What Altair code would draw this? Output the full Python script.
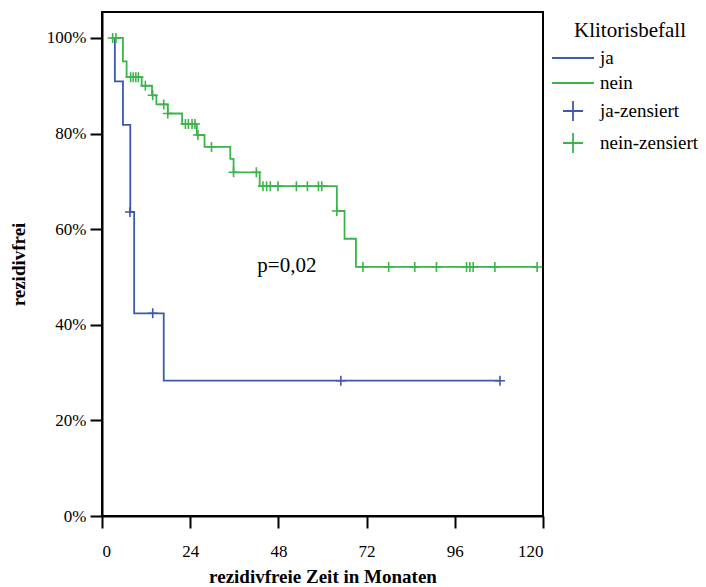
import altair as alt
import pandas as pd

BLUE = "#3d58ad"
GREEN = "#3bb54a"
FONT = "Liberation Serif"

# Kaplan-Meier step points (time in months, survival proportion)
ja_t = [2.9, 3.5, 5.7, 7.7, 8.75, 16.8, 108.3]
ja_s = [1.0, 0.909, 0.818, 0.636, 0.424, 0.283, 0.283]
ja_cens_t = [7.6, 13.8, 65.0, 108.3]
ja_cens_s = [0.636, 0.424, 0.283, 0.283]

nein_t = [2.9, 5.7, 6.7, 10.8, 13.6, 14.8, 17.9, 21.8, 25.8, 27.9, 34.9, 35.8,
          42.9, 63.9, 66.0, 69.1, 118.4]
nein_s = [1.0, 0.951, 0.918, 0.900, 0.880, 0.861, 0.842, 0.820, 0.797, 0.772,
          0.747, 0.719, 0.690, 0.638, 0.580, 0.521, 0.521]
nein_cens_t = [2.9, 3.8, 7.8, 8.5, 9.2, 9.9, 11.8, 13.8, 16.8, 17.9, 22.7, 23.5,
               24.5, 25.3, 26.1, 29.8, 35.8, 42.0, 43.8, 44.8, 45.8, 47.9, 52.9,
               55.9, 58.9, 59.8, 63.9, 71.0, 78.0, 85.1, 91.0, 99.2, 100.1,
               101.0, 106.9, 118.4]
nein_cens_s = [1.0, 1.0, 0.918, 0.918, 0.918, 0.918, 0.900, 0.880, 0.861, 0.842,
               0.820, 0.820, 0.820, 0.820, 0.797, 0.772, 0.719, 0.719,
               0.690, 0.690, 0.690, 0.690, 0.690, 0.690, 0.690, 0.690, 0.638,
               0.521, 0.521, 0.521, 0.521, 0.521, 0.521, 0.521, 0.521, 0.521]

groups = ["ja", "nein", "ja-zensiert", "nein-zensiert"]
x_ticks = [0, 24, 48, 72, 96, 120]
y_ticks = [0, 0.2, 0.4, 0.6, 0.8, 1.0]
p_label = ["p=0,02"]
p_x = [50.3]
p_y = [0.522]

lines = pd.DataFrame({
    "t": ja_t + nein_t,
    "s": ja_s + nein_s,
    "grp": ["ja"] * len(ja_t) + ["nein"] * len(nein_t),
})
cens = pd.DataFrame({
    "t": ja_cens_t + nein_cens_t,
    "s": ja_cens_s + nein_cens_s,
    "grp": ["ja-zensiert"] * len(ja_cens_t) + ["nein-zensiert"] * len(nein_cens_t),
})
ann = pd.DataFrame({"t": p_x, "s": p_y, "label": p_label})

PLUS = "M-1,0H1M0,-1V1"
LINE = "M-2.1,0H2.1"
color_scale = alt.Scale(domain=groups, range=[BLUE, GREEN, BLUE, GREEN])
shape_scale = alt.Scale(domain=groups, range=[LINE, LINE, PLUS, PLUS])
stroke_scale = alt.Scale(domain=groups[:2], range=[BLUE, GREEN])

x = alt.X("t:Q", scale=alt.Scale(domain=[0, 120], nice=False, zero=False),
          axis=alt.Axis(values=x_ticks, title="rezidivfreie Zeit in Monaten",
                        labelFont=FONT, titleFont=FONT, labelPadding=15,
                        labelFontSize=17, titleFontSize=19))
y = alt.Y("s:Q", scale=alt.Scale(domain=[0, 1.0543], nice=False),
          axis=alt.Axis(values=y_ticks, format=".0%", title="rezidivfrei",
                        labelFont=FONT, titleFont=FONT, labelPadding=4,
                        labelFontSize=17, titleFontSize=19))

legend = alt.Legend(title="Klitorisbefall", orient="none",
                    legendX=460, legendY=8, symbolSize=400,
                    symbolStrokeWidth=1.8, labelOffset=16,
                    rowPadding=4, titlePadding=6, padding=0,
                    titleAnchor="middle",
                    titleFont=FONT, labelFont=FONT,
                    titleFontSize=21, labelFontSize=19,
                    titleFontWeight="normal", titleColor="black", labelColor="black")

line_layer = alt.Chart(lines).mark_line(interpolate="step-after", strokeWidth=1.8).encode(
    x=x, y=y,
    stroke=alt.Stroke("grp:N", scale=stroke_scale, legend=None),
    detail="grp:N",
)
cens_layer = alt.Chart(cens).mark_point(filled=False, strokeWidth=1.6, opacity=1).encode(
    x="t:Q", y="s:Q",
    color=alt.Color("grp:N", scale=color_scale, legend=legend),
    shape=alt.Shape("grp:N", scale=shape_scale, legend=legend),
    size=alt.value(100),
)
text_layer = alt.Chart(ann).mark_text(font=FONT, fontSize=21, color="black").encode(
    x="t:Q", y="s:Q", text="label:N"
)

chart = alt.layer(line_layer, cens_layer, text_layer).properties(
    width=441, height=504,
    autosize=alt.AutoSizeParams(type="none"),
    padding={"left": 102, "top": 12, "right": 163, "bottom": 71},
).configure(
    font=FONT
).configure_view(
    stroke="black", strokeWidth=2
).configure_axis(
    labelFont=FONT, titleFont=FONT,
    labelColor="black", titleColor="black", domainColor="black", tickColor="black",
    domainWidth=2, tickWidth=2, tickSize=12, grid=False, titleFontWeight="bold",
).configure_axisX(
    titleY=66, titleBaseline="alphabetic"
).configure_axisY(
    titleX=-84, titleBaseline="middle"
).configure_legend(
    titleFont=FONT, labelFont=FONT,
)

chart.save("out.html", embed_options={"renderer": "svg", "actions": False})
